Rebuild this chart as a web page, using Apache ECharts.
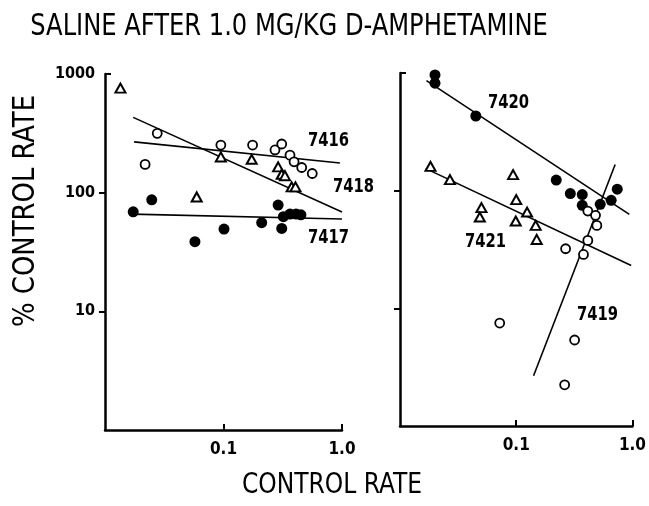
<!DOCTYPE html>
<html><head><meta charset="utf-8">
<script src="https://cdn.jsdelivr.net/npm/echarts@6/dist/echarts.min.js"></script>
<style>html,body{margin:0;padding:0;background:#fff}#c{width:649px;height:506px}</style>
</head><body><div id="c"></div>
<script>
// ---- data ----
const titleText = 'SALINE AFTER 1.0 MG/KG D-AMPHETAMINE';
const yAxisName = '% CONTROL RATE';
const xAxisName = 'CONTROL RATE';
const yTickValues = [10, 100, 1000];
const xTickValues = [0.1, 1];

// left panel
const s7416X = [0.0218, 0.0276, 0.095, 0.176, 0.272, 0.31, 0.364, 0.394, 0.457, 0.561];
const s7416Y = [173, 316, 252, 252, 229, 257, 207, 182, 163, 145];
const s7418X = [0.0135, 0.0594, 0.095, 0.173, 0.289, 0.31, 0.33, 0.376, 0.405];
const s7418Y = [760, 92, 200, 191, 165, 143, 139, 112, 112];
const s7417X = [0.0173, 0.0248, 0.0574, 0.101, 0.21, 0.289, 0.31, 0.32, 0.364, 0.41, 0.45];
const s7417Y = [69, 87, 38.6, 49.3, 55.8, 78.6, 50, 62.7, 66, 66, 65];
const fit7416X = [0.0176, 0.96], fit7416Y = [268, 178];
const fit7418X = [0.0173, 1.0], fit7418Y = [431, 68.6];
const fit7417X = [0.0168, 1.0], fit7417Y = [66, 60];

// right panel
const s7420X = [0.02, 0.02, 0.0449, 0.221, 0.292, 0.37, 0.37, 0.528, 0.656, 0.74];
const s7420Y = [963, 819, 431, 123, 94.5, 92.6, 75, 76.6, 82.8, 103];
const s7421X = [0.0183, 0.0269, 0.094, 0.1, 0.0502, 0.0486, 0.099, 0.124, 0.147, 0.15];
const s7421Y = [161, 124, 137, 84, 71.8, 59.7, 55.2, 65.8, 50.7, 38.5];
const s7419X = [0.413, 0.481, 0.494, 0.413, 0.266, 0.379, 0.0721, 0.318, 0.261];
const s7419Y = [67.1, 61.7, 50.7, 37.8, 32.1, 28.7, 7.5, 5.38, 2.24];
const fit7420X = [0.0169, 0.94], fit7420Y = [861, 62.9];
const fit7421X = [0.0167, 0.975], fit7421Y = [154, 23.1];
const fit7419X = [0.141, 0.71], fit7419Y = [2.67, 167];

// ---- chart ----
const zip = (a, b) => a.map((v, i) => [v, b[i]]);
const FONT = '"DejaVu Sans Condensed", "Liberation Sans Narrow", sans-serif';
const lineCol = '#000';

function xAxis(gi) {
  return {
    type: 'log', logBase: 10, gridIndex: gi, min: 0.01, max: 1,
    axisLine: { show: true, lineStyle: { color: lineCol, width: 2.5 } },
    axisTick: { show: true, inside: true, length: 6, lineStyle: { width: 2, color: lineCol }, customValues: xTickValues },
    axisLabel: { show: true, color: '#000', fontFamily: FONT, fontWeight: 'bold', fontSize: 17, margin: 11,
      customValues: xTickValues, formatter: v => (v >= 1 ? '1.0' : '0.1') },
    splitLine: { show: false }, minorTick: { show: false }
  };
}
function yAxis(gi, labels) {
  return {
    type: 'log', logBase: 10, gridIndex: gi, min: 1, max: 1000, position: 'left',
    axisLine: { show: true, lineStyle: { color: lineCol, width: 2.5 } },
    axisTick: { show: true, inside: false, length: 6, lineStyle: { width: 2, color: lineCol }, customValues: [10, 100] },
    axisLabel: { show: labels, color: '#000', fontFamily: FONT, fontWeight: 'bold', fontSize: 16, margin: 10,
      customValues: yTickValues, formatter: v => String(Math.round(v)) },
    splitLine: { show: false }
  };
}
function yAxisTop(gi) {
  return {
    type: 'log', logBase: 10, gridIndex: gi, min: 1, max: 1000, position: 'left',
    axisLine: { show: false },
    axisTick: { show: true, inside: true, length: 6, lineStyle: { width: 2, color: lineCol }, customValues: [1000] },
    axisLabel: { show: false }, splitLine: { show: false }
  };
}
function scat(xi, yi, xs, ys, kind) {
  const base = { type: 'scatter', xAxisIndex: xi, yAxisIndex: yi, data: zip(xs, ys), z: 5 };
  if (kind === 'filled') return Object.assign(base, { symbol: 'circle', symbolSize: 11, itemStyle: { color: '#000', opacity: 1 } });
  if (kind === 'open') return Object.assign(base, { symbol: 'circle', symbolSize: 9, itemStyle: { color: '#fff', borderColor: '#000', borderWidth: 1.8, opacity: 1 } });
  return Object.assign(base, { symbol: 'triangle', symbolSize: [10, 9], itemStyle: { color: '#fff', borderColor: '#000', borderWidth: 2, opacity: 1 } });
}
function fit(xi, yi, xs, ys) {
  return { type: 'line', xAxisIndex: xi, yAxisIndex: yi, data: zip(xs, ys), symbol: 'none',
    lineStyle: { color: '#000', width: 1.6 }, z: 3, silent: true };
}
const lbl = (x, y, t) => ({ type: 'text', x: x, y: y, scaleX: 0.82, style: { text: t, fill: '#000', font: 'bold 20px ' + FONT, align: 'left', verticalAlign: 'middle' } });

const chart = echarts.init(document.getElementById('c'), null, { renderer: 'canvas' });
chart.setOption({
  animation: false,
  backgroundColor: '#fff',
  grid: [
    { left: 105, top: 74, width: 237, height: 356 },
    { left: 400, top: 73, width: 233, height: 353 }
  ],
  xAxis: [xAxis(0), xAxis(1)],
  yAxis: [yAxis(0, true), yAxis(1, false), yAxisTop(0), yAxisTop(1)],
  series: [
    fit(0, 0, fit7416X, fit7416Y), fit(0, 0, fit7418X, fit7418Y), fit(0, 0, fit7417X, fit7417Y),
    fit(1, 1, fit7420X, fit7420Y), fit(1, 1, fit7421X, fit7421Y), fit(1, 1, fit7419X, fit7419Y),
    scat(0, 0, s7416X, s7416Y, 'open'), scat(0, 0, s7418X, s7418Y, 'tri'), scat(0, 0, s7417X, s7417Y, 'filled'),
    scat(1, 1, s7420X, s7420Y, 'filled'), scat(1, 1, s7421X, s7421Y, 'tri'), scat(1, 1, s7419X, s7419Y, 'open')
  ],
  graphic: [
    { type: 'text', x: 289, y: 27, scaleX: 0.896, style: { text: titleText, fill: '#000', font: '30px ' + FONT, align: 'center', verticalAlign: 'middle' } },
    { type: 'text', x: 26, y: 211, rotation: Math.PI / 2, scaleX: 0.96, style: { text: yAxisName, fill: '#000', font: '30px ' + FONT, align: 'center', verticalAlign: 'middle' } },
    { type: 'text', x: 332, y: 486, scaleX: 0.93, style: { text: xAxisName, fill: '#000', font: '28px ' + FONT, align: 'center', verticalAlign: 'middle' } },
    lbl(308, 141, '7416'), lbl(333, 187, '7418'), lbl(308, 238, '7417'),
    lbl(488, 103, '7420'), lbl(465, 242, '7421'), lbl(577, 315, '7419')
  ]
});
</script></body></html>
